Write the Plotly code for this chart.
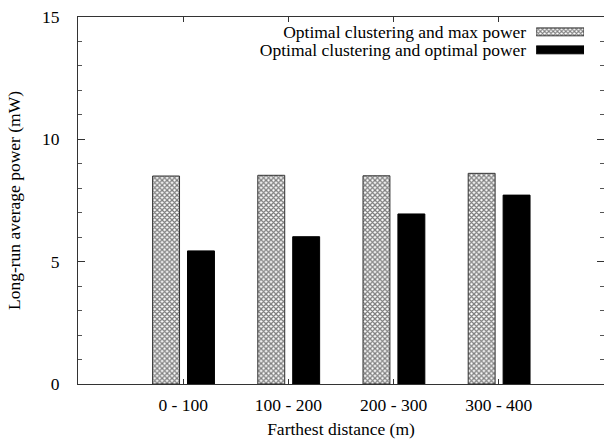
import plotly.graph_objects as go

categories = ["0 - 100", "100 - 200", "200 - 300", "300 - 400"]
max_power = [8.50, 8.53, 8.51, 8.61]
opt_power = [5.44, 6.02, 6.95, 7.72]
series_names = ["Optimal clustering and max power", "Optimal clustering and optimal power"]
y_ticks = [0, 5, 10, 15]

FONT = "'Liberation Serif', 'Times New Roman', Times, serif"
FS = 17.5
xpos = list(range(len(categories)))

fig = go.Figure()
fig.add_trace(go.Bar(
    x=xpos, y=max_power, width=0.256, offset=-0.291,
    marker=dict(color="white", line=dict(color="#333", width=1),
                pattern=dict(shape="x", size=3.5, solidity=0.6, fgcolor="black", bgcolor="white")),
    showlegend=False, name=series_names[0]))
fig.add_trace(go.Bar(
    x=xpos, y=opt_power, width=0.256, offset=0.041,
    marker=dict(color="black", line=dict(color="black", width=1)),
    showlegend=False, name=series_names[1]))

# legend swatches on an auxiliary axis, labels right-aligned via tick labels
fig.add_trace(go.Bar(
    x=[1], y=[1], orientation="h", width=0.44, xaxis="x2", yaxis="y2",
    marker=dict(color="white", line=dict(color="#333", width=1),
                pattern=dict(shape="x", size=3, solidity=0.6, fgcolor="black", bgcolor="white")),
    showlegend=False, hoverinfo="skip"))
fig.add_trace(go.Bar(
    x=[1], y=[0], orientation="h", width=0.44, xaxis="x2", yaxis="y2",
    marker=dict(color="black", line=dict(color="black", width=1)),
    showlegend=False, hoverinfo="skip"))

fig.update_layout(
    width=604, height=439,
    margin=dict(l=78, r=0, t=17, b=55),
    plot_bgcolor="white", paper_bgcolor="white",
    font=dict(family=FONT, size=FS, color="black"),
    barmode="overlay",
    xaxis=dict(
        range=[-1, 4], tickmode="array", tickvals=xpos, ticktext=categories,
        ticks="inside", ticklen=5, tickcolor="#333", showline=True, linecolor="#333", linewidth=1,
        mirror="ticks", showgrid=False, zeroline=False,
        tickfont=dict(family=FONT, size=FS), ticklabelstandoff=5,
        title=dict(text="Farthest distance (m)", font=dict(family=FONT, size=FS), standoff=10),
    ),
    yaxis=dict(
        range=[0, 15], tickmode="array", tickvals=y_ticks,
        ticks="inside", ticklen=7, tickcolor="#333", showline=True, linecolor="#333", linewidth=1,
        mirror="ticks", showgrid=False, zeroline=False,
        minor=dict(dtick=1, ticks="inside", ticklen=4, tickcolor="#555"),
        tickfont=dict(family=FONT, size=FS), ticklabelstandoff=14,
        title=dict(text="Long-run average power (mW)", font=dict(family=FONT, size=FS), standoff=16),
    ),
    xaxis2=dict(domain=[0.871, 0.962], range=[0, 1], anchor="y2",
                visible=False, fixedrange=True),
    yaxis2=dict(domain=[0.886, 0.984], range=[-0.5, 1.5], anchor="x2",
                tickmode="array", tickvals=[1, 0], ticktext=series_names,
                showline=False, ticks="", showgrid=False, zeroline=False,
                tickfont=dict(family=FONT, size=FS), ticklabelstandoff=9, fixedrange=True),
)

fig.write_html("out.html")
